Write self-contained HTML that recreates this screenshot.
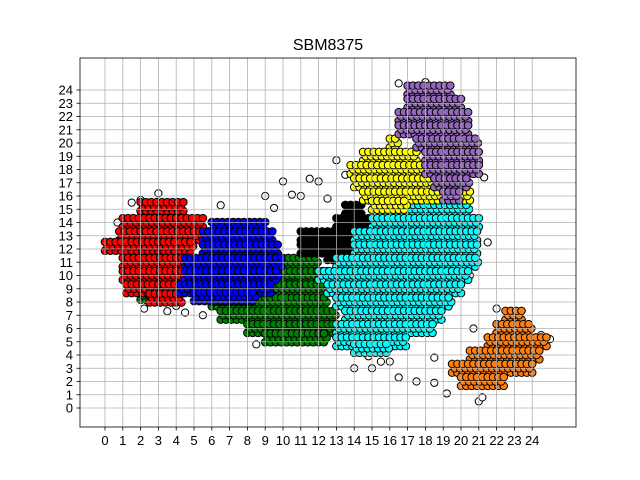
<!DOCTYPE html>
<html><head><meta charset="utf-8"><style>body{margin:0;background:#fff}svg{display:block;font-family:"Liberation Sans","DejaVu Sans",sans-serif}</style></head>
<body>
<svg id="chart" width="640" height="480">
<rect width="640" height="480" fill="#fff"/>
<text x="328" y="50" text-anchor="middle" font-size="16">SBM8375</text>
<g id="marks"></g><g id="grid"></g><g id="axes"></g>
</svg>
<script>
const xTicks=[0,1,2,3,4,5,6,7,8,9,10,11,12,13,14,15,16,17,18,19,20,21,22,23,24];
const yTicks=[0,1,2,3,4,5,6,7,8,9,10,11,12,13,14,15,16,17,18,19,20,21,22,23,24];
const clusterNames=["green","red","blue","black","cyan","yellow","purple","orange"];
const clusterColors=["#008000","#ff0000","#0000ff","#000000","#00ffff","#ffff00","#9467bd","#ff7f0e"];
// rows: [y, xStart, xEnd]
const greenRows=[[11,10,12],[10,9.5,12.5],[9,8,12.5],[8,6,12.5],[7,6.5,13],[6,8,13],[5.3,9,12.5],[8.5,2,4]];
const redRows=[[15.2,2,4.5],[14,1,5.5],[13,0.8,5.5],[12.2,0,5],[11,1,4.5],[10,1,4.5],[9,1.2,4.3],[8.3,2.5,4.3]];
const blueRows=[[13.7,6,9],[13,5.5,9.5],[12,5.5,9.8],[11,4.5,10],[10,4.5,9.8],[9,4.2,9.3],[8.4,5,8.5]];
const blackRows=[[15,13.5,14.5],[14,13,15],[13,11,15],[12,11,14],[11.5,12.5,14]];
const cyanRows=[[15,15.5,20.5],[14,15,21],[13,14,21],[12,14,21],[11,13,21],[10,12,20.5],[9,12.5,20],[8,13,19.5],[7,13.5,19],[6,13,18.5],[5,13,17],[4.5,14,16]];
const yellowRows=[[20,16,16.5],[19,14.5,17.5],[18,13.8,18],[17,14,19.5],[16,14.5,20.5],[15.3,15,17]];
const purpleRows=[[24,17,19.5],[23,17,20],[22,16.5,20.5],[21,16.5,20.5],[20,17.5,21],[19,18,21],[18,18,21],[17,18.5,20.5],[16,19,20]];
const orangeRows=[[7,22.5,23.5],[6,22,24],[5,21.5,24.8],[4,20.5,24.5],[3,19.5,24],[2,20,22.5]];
const outlierX=[0.7,1.5,2,3,3.5,4.5,5.5,6,6.5,7,8,9,9.5,10,11,10.5,11.5,12,13,14,14.8,15,16,16.5,17.5,18,19,19.5,20,21,21.3,21.5,20.5,19.5,18.5,17.5,16.5,15.5,14,25,24.5,22,21,12.5,13.5,17,18.5,19.2,21.2,20.7,8.5,4,2.2];
const outlierY=[14,15.5,15.7,16.2,7.3,7.2,7,7.7,15.3,14,5.7,16,15.1,17.1,16,16.1,17.3,17.1,18.7,18.2,3.9,3,3.5,24.5,24.3,24.6,24.3,23,21,18.5,17.4,12.5,10,9.5,3.8,2,2.3,3.5,3,5.2,5.5,7.5,0.5,15.8,17.6,21.5,1.9,1.1,0.8,6,4.8,7.7,7.5];
const allRows=[greenRows,redRows,blueRows,blackRows,cyanRows,yellowRows,purpleRows,orangeRows];
const X=v=>105+v*17.8, Y=v=>408-v*13.25;
const NS="http://www.w3.org/2000/svg";
function mk(t,a,p){const e=document.createElementNS(NS,t);for(const k in a)e.setAttribute(k,a[k]);p.appendChild(e);return e;}
const marks=document.getElementById('marks'),grid=document.getElementById('grid'),axes=document.getElementById('axes');
for(let i=0;i<outlierX.length;i++){
 const c=mk('circle',{cx:X(outlierX[i]),cy:Y(outlierY[i]),r:3.6,fill:'#fff',stroke:'#000','stroke-width':1},marks);
 
 
}
allRows.forEach((rows,ci)=>{
 const g=mk('g',{},marks);
 
 
 rows.forEach(r=>{
  [-0.33,0,0.33].forEach((dy,k)=>{
   const off=k%2?0.15:0;
   for(let x=r[1]+off;x<=r[2]+0.001;x+=0.3){
    mk('circle',{cx:X(x),cy:Y(r[0]+dy),r:3.8,fill:clusterColors[ci],stroke:'#000','stroke-width':1},g);
   }
  });
 });
});
xTicks.forEach(t=>{
 mk('line',{x1:X(t),x2:X(t),y1:58,y2:427,stroke:'#b0b0b0','stroke-width':0.8},grid);
 mk('line',{x1:X(t),x2:X(t),y1:427,y2:430.5,stroke:'#000','stroke-width':0.8},axes);
 const l=mk('text',{x:X(t),y:445,'text-anchor':'middle','font-size':13},axes);l.textContent=t;
 
 
});
yTicks.forEach(t=>{
 mk('line',{x1:80,x2:576,y1:Y(t),y2:Y(t),stroke:'#b0b0b0','stroke-width':0.8},grid);
 mk('line',{x1:76.5,x2:80,y1:Y(t),y2:Y(t),stroke:'#000','stroke-width':0.8},axes);
 const l=mk('text',{x:73,y:Y(t)+4.5,'text-anchor':'end','font-size':13},axes);l.textContent=t;
 
 
});
const f=mk('rect',{x:80,y:58,width:496,height:369,fill:'none',stroke:'#000','stroke-width':0.8},axes);


</script>
</body></html>
